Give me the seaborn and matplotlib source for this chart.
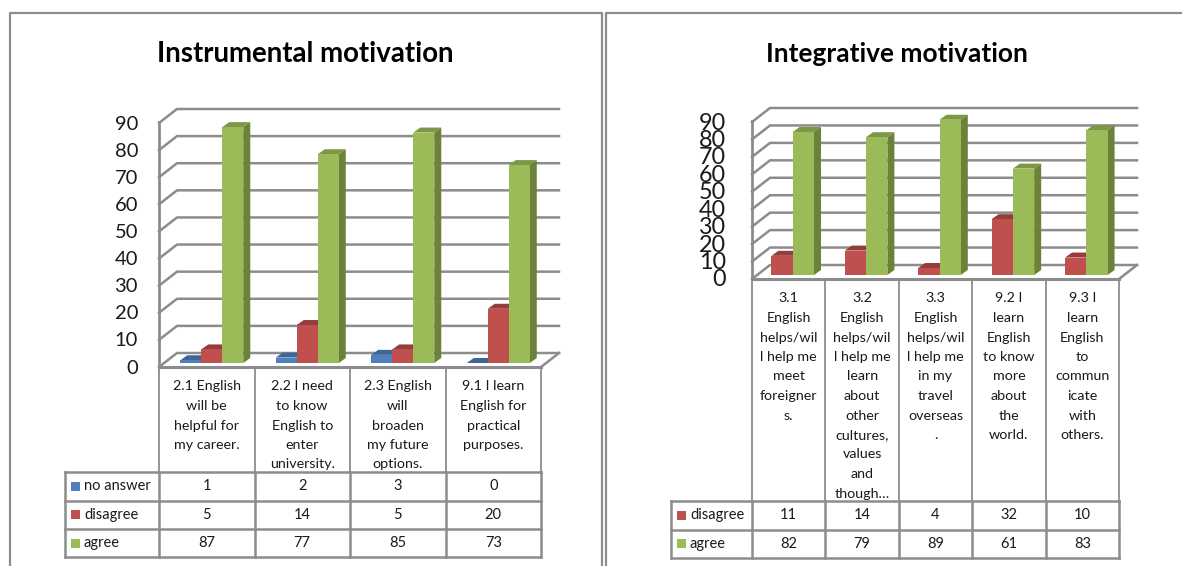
import matplotlib
matplotlib.use("Agg")
import matplotlib.pyplot as plt
from matplotlib.lines import Line2D
from matplotlib.patches import Polygon, Rectangle
from matplotlib.transforms import Affine2D, IdentityTransform
import numpy as np
import pandas as pd
import seaborn as sns

# left chart
left_title = "Instrumental motivation"
left_items = [
    "2.1 English\nwill be\nhelpful for\nmy career.",
    "2.2 I need\nto know\nEnglish to\nenter\nuniversity.",
    "2.3 English\nwill\nbroaden\nmy future\noptions.",
    "9.1 I learn\nEnglish for\npractical\npurposes.",
]
left_no_answer = [1, 2, 3, 0]
left_disagree = [5, 14, 5, 20]
left_agree = [87, 77, 85, 73]

# right chart
right_title = "Integrative motivation"
right_items = [
    "3.1\nEnglish\nhelps/wil\nl help me\nmeet\nforeigner\ns.",
    "3.2\nEnglish\nhelps/wil\nl help me\nlearn\nabout\nother\ncultures,\nvalues\nand\nthough\u2026",
    "3.3\nEnglish\nhelps/wil\nl help me\nin my\ntravel\noverseas\n.",
    "9.2 I\nlearn\nEnglish\nto know\nmore\nabout\nthe\nworld.",
    "9.3 I\nlearn\nEnglish\nto\ncommun\nicate\nwith\nothers.",
]
right_disagree = [11, 14, 4, 32, 10]
right_agree = [82, 79, 89, 61, 83]

y_ticks = [0, 10, 20, 30, 40, 50, 60, 70, 80, 90]

colors = {"no answer": "#4F81BD", "disagree": "#C0504D", "agree": "#9BBB59"}
side_colors = {"no answer": "#345A87", "disagree": "#8A3533", "agree": "#6B8238"}
top_colors = {"no answer": "#3E6797", "disagree": "#963C3A", "agree": "#7C9845"}
line_grey = "#8C8C8C"

W, H = 1182, 566
plt.rcParams["font.family"] = ["Lato", "DejaVu Sans"]

fig = plt.figure(figsize=(W / 100, H / 100), dpi=100)


def line(xs, ys, lw=1.5, zorder=1):
    # xs, ys in image pixels, y going down
    fig.add_artist(Line2D(xs, [H - y for y in ys], transform=IdentityTransform(),
                          color=line_grey, lw=lw, zorder=zorder, solid_capstyle="projecting"))


def label(x, y, s, size=10.3, ha="center"):
    fig.text(x, H - y, s, transform=IdentityTransform(), fontsize=size, ha=ha, va="center",
             color="#1a1a1a", zorder=4)


def draw_chart(title, title_x, title_size, items, series, x0, x1, y_top, y_zero,
               head_bottom, row_ys, legend_x, tick_x, tick_size):
    n = len(items)
    ax = fig.add_axes([x0 / W, (H - y_zero) / H, (x1 - x0) / W, (y_zero - y_top) / H])
    ax.patch.set_alpha(0)
    ax.set_zorder(2)

    names = list(series)
    df = pd.DataFrame({
        "item": np.tile(items, len(names)),
        "group": np.repeat(names, n),
        "value": np.concatenate([series[k] for k in names]),
    })
    bar_w = 0.66 if len(names) == 3 else 0.58
    sns.barplot(data=df, x="item", y="value", hue="group", hue_order=names, palette=colors,
                width=bar_w, gap=0, dodge=True, saturation=1, legend=False, ax=ax)
    ax.set_ylim(0, 90)
    ax.set_xlim(-0.5, n - 0.5)
    ax.set_yticks(y_ticks)
    ax.set_xticks([])
    ax.set_xlabel("")
    ax.set_ylabel("")
    ax.tick_params(left=False, labelleft=False)
    sns.despine(ax=ax, left=True, bottom=True)

    # depth of the 3d box and of the bars, in pixels
    dx, dy = 18, 14
    bx, by = (5 if len(names) == 3 else 4), 4
    sx, sy = 7, 5

    # walls
    for v in y_ticks:
        y = H - ax.transData.transform((0, v))[1]
        line([x0, x0 + dx, x1 + dx], [y, y - dy, y - dy], lw=1.8)
    line([x0, x0], [y_top - 1, y_zero], lw=2)
    line([x1, x1 + dx], [y_zero, y_zero - dy], lw=1.8)

    # push bars back from the front plane and give them top and side faces
    bars = [b for c in ax.containers for b in c]
    for i, b in enumerate(bars):
        name = names[i // n]
        b.set_transform(ax.transData + Affine2D().translate(bx, by))
        b.set_clip_on(False)
        (ax0, ay0), (ax1, ay1) = ax.transData.transform(
            [(b.get_x(), b.get_y()), (b.get_x() + b.get_width(), b.get_y() + b.get_height())])
        ax0, ax1 = ax0 + bx, ax1 + bx
        ay0, ay1 = ay0 + by, ay1 + by
        top = [(ax0, ay1), (ax1, ay1), (ax1 + sx, ay1 + sy), (ax0 + sx, ay1 + sy)]
        side = [(ax1, ay0), (ax1 + sx, ay0 + sy), (ax1 + sx, ay1 + sy), (ax1, ay1)]
        fig.add_artist(Polygon(top, transform=IdentityTransform(), fc=top_colors[name], lw=0, zorder=1.5))
        fig.add_artist(Polygon(side, transform=IdentityTransform(), fc=side_colors[name], lw=0, zorder=1.5))

    # y tick labels
    for v in y_ticks:
        py = H - ax.transData.transform((0, v))[1]
        label(tick_x, py + 1, str(v), size=tick_size, ha="right")

    # data table
    col_w = (x1 - x0) / n
    cols = [x0 + col_w * i for i in range(n + 1)]
    for c in cols:
        line([c, c], [y_zero, head_bottom], lw=1.3)
    line([x0, x1], [y_zero, y_zero], lw=2.2)
    for i, s in enumerate(items):
        for j, t in enumerate(s.split("\n")):
            label(cols[i] + col_w / 2, y_zero + 19.5 + j * 19.5, t)
    for y in row_ys:
        line([legend_x, x1], [y, y], lw=1.8)
    for c in [legend_x] + cols:
        line([c, c], [row_ys[0], row_ys[-1]], lw=1.8)
    for r, name in enumerate(names):
        ym = (row_ys[r] + row_ys[r + 1]) / 2
        fig.add_artist(Rectangle((legend_x + 6, H - ym - 4.5), 9, 9, transform=IdentityTransform(),
                                 fc=colors[name], lw=0))
        label(legend_x + 19, ym, name, size=10.5, ha="left")
        for i in range(n):
            label(cols[i] + col_w / 2, ym, str(series[name][i]), size=10.5)

    fig.text(title_x, H - 53.5, title, transform=IdentityTransform(), fontsize=title_size,
             fontweight="bold", ha="center", va="center", color="black")


draw_chart(left_title, 305, 19.9, left_items,
           {"no answer": left_no_answer, "disagree": left_disagree, "agree": left_agree},
           159, 541, 123, 367, 472, [472, 500.5, 529, 557], 65, 138, 14.5)
draw_chart(right_title, 897, 18.9, right_items,
           {"disagree": right_disagree, "agree": right_agree},
           752, 1119, 122, 279, 501, [501, 529.5, 558], 671, 726, 16.8)

# panel frames
line([10, 10, 601.5, 601.5], [566, 13, 13, 566], lw=1.6)
line([606, 606, 1182], [566, 13, 13], lw=1.6)

fig.savefig("out.png", dpi=100)
